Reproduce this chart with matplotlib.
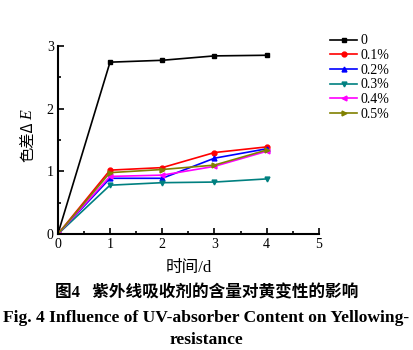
import matplotlib
matplotlib.use("Agg")
import matplotlib.pyplot as plt
from matplotlib.ticker import MultipleLocator

plt.rcParams['font.family'] = ['Liberation Serif', 'Noto Sans CJK SC', 'DejaVu Sans']

days = [0, 1, 2, 3, 4]
labels = ['0', '0.1%', '0.2%', '0.3%', '0.4%', '0.5%']
v0 = [0, 2.74, 2.77, 2.84, 2.85]
v01 = [0, 1.02, 1.06, 1.30, 1.39]
v02 = [0, 0.89, 0.89, 1.21, 1.36]
v03 = [0, 0.78, 0.82, 0.83, 0.88]
v04 = [0, 0.92, 0.94, 1.08, 1.32]
v05 = [0, 0.98, 1.03, 1.10, 1.34]
series = [v0, v01, v02, v03, v04, v05]
colors = ['black', 'red', 'blue', '#008080', 'magenta', '#808000']
markers = ['s', 'o', '^', 'v', '<', '>']

fig = plt.figure(figsize=(4.13, 3.5), dpi=100)
ax = fig.add_axes([0.140, 0.331, 0.632, 0.538])
for vals, lab, c, m in zip(series, labels, colors, markers):
    ax.plot(days, vals, color=c, marker=m, markersize=3.5, lw=1.2, label=lab)

ax.set_xlim(0, 5)
ax.set_ylim(0, 3)
ax.xaxis.set_major_locator(MultipleLocator(1))
ax.xaxis.set_minor_locator(MultipleLocator(0.5))
ax.yaxis.set_major_locator(MultipleLocator(1))
ax.yaxis.set_minor_locator(MultipleLocator(0.5))
for s in ['top', 'right']:
    ax.spines[s].set_visible(False)
for s in ['left', 'bottom']:
    ax.spines[s].set_linewidth(1.5)
ax.tick_params(which='both', direction='in', width=1.2, labelsize=10)
ax.tick_params(which='major', length=4, pad=3)
ax.tick_params(which='minor', length=2.5)
ax.set_xlabel('时间/d', fontsize=12, labelpad=6)

# y label: CJK part plus italic E
t1 = fig.text(0.068, 0.538, '色差Δ', rotation=90, ha='center', va='bottom',
              fontsize=11, family=['Noto Sans CJK SC', 'DejaVu Sans'])
fig.canvas.draw()
bb = t1.get_window_extent()
top_frac = bb.y1 / fig.bbox.height
fig.text(0.068, top_frac + 0.002, 'E', rotation=90, ha='center', va='bottom',
         fontsize=11.5, style='italic')

ax.legend(loc='upper left', bbox_to_anchor=(1.02, 1.09), frameon=False,
          fontsize=10, handlelength=2.0, handletextpad=0.2, labelspacing=0.12,
          borderaxespad=0)

fig.text(0.5, 0.163, '图4   紫外线吸收剂的含量对黄变性的影响', ha='center', va='center',
         fontsize=12, fontweight='bold')
fig.text(0.5, 0.090, 'Fig. 4 Influence of UV-absorber Content on Yellowing-',
         ha='center', va='center', fontsize=12.6, fontweight='bold')
fig.text(0.5, 0.030, 'resistance', ha='center', va='center', fontsize=12.6, fontweight='bold')

fig.savefig('out.png', dpi=100)
